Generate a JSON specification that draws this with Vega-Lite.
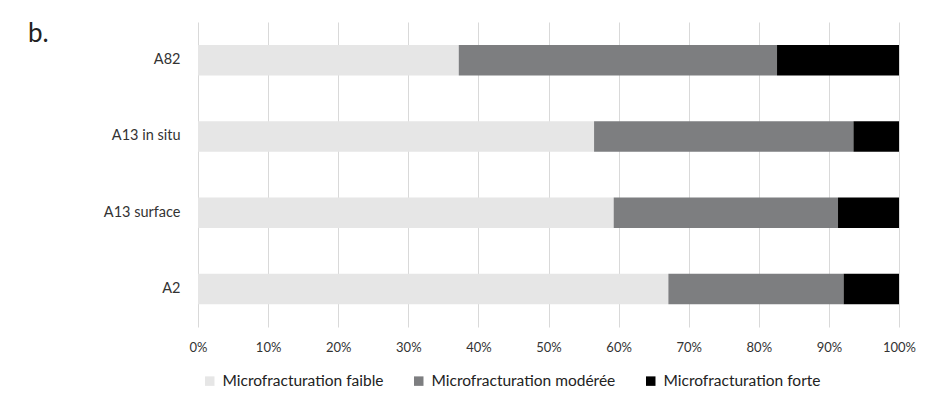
{
  "$schema": "https://vega.github.io/schema/vega-lite/v6.json",
  "width": 701,
  "height": 305,
  "autosize": "none",
  "padding": {"left": 198, "top": 22, "right": 28, "bottom": 76},
  "background": "white",
  "title": {"text": "b.", "anchor": "start", "frame": "group", "orient": "top", "baseline": "alphabetic", "offset": 0, "dx": -170, "dy": 46, "fontSize": 26, "fontWeight": "normal", "font": "Lato", "color": "#222222"},
  "config": {
    "font": "Lato",
    "view": {"stroke": null},
    "axis": {"labelFont": "Lato", "labelFontSize": 13, "labelColor": "#333333"}
  },
  "data": {
    "values": [
      {"echantillon": "A82", "classe": "Microfracturation faible", "rang": 1, "valeur": 37.2},
      {"echantillon": "A82", "classe": "Microfracturation modérée", "rang": 2, "valeur": 45.4},
      {"echantillon": "A82", "classe": "Microfracturation forte", "rang": 3, "valeur": 17.4},
      {"echantillon": "A13 in situ", "classe": "Microfracturation faible", "rang": 1, "valeur": 56.5},
      {"echantillon": "A13 in situ", "classe": "Microfracturation modérée", "rang": 2, "valeur": 37.0},
      {"echantillon": "A13 in situ", "classe": "Microfracturation forte", "rang": 3, "valeur": 6.5},
      {"echantillon": "A13 surface", "classe": "Microfracturation faible", "rang": 1, "valeur": 59.3},
      {"echantillon": "A13 surface", "classe": "Microfracturation modérée", "rang": 2, "valeur": 32.0},
      {"echantillon": "A13 surface", "classe": "Microfracturation forte", "rang": 3, "valeur": 8.7},
      {"echantillon": "A2", "classe": "Microfracturation faible", "rang": 1, "valeur": 67.1},
      {"echantillon": "A2", "classe": "Microfracturation modérée", "rang": 2, "valeur": 25.0},
      {"echantillon": "A2", "classe": "Microfracturation forte", "rang": 3, "valeur": 7.9}
    ]
  },
  "mark": {"type": "bar"},
  "encoding": {
    "y": {
      "field": "echantillon", "type": "nominal",
      "sort": ["A82", "A13 in situ", "A13 surface", "A2"],
      "scale": {"paddingInner": 0.6, "paddingOuter": 0.3},
      "axis": {"title": null, "ticks": false, "domain": false, "labelPadding": 18, "grid": false, "labelFontSize": 14.5}
    },
    "x": {
      "field": "valeur", "type": "quantitative", "stack": "normalize",
      "scale": {"domain": [0, 1], "nice": false},
      "axis": {"title": null, "format": ".0%", "values": [0, 0.1, 0.2, 0.3, 0.4, 0.5, 0.6, 0.7, 0.8, 0.9, 1], "ticks": false, "domain": false, "grid": true, "gridColor": "#d9d9d9", "gridWidth": 1, "labelPadding": 14, "labelFlush": false}
    },
    "order": {"field": "rang", "type": "quantitative", "sort": "ascending"},
    "color": {
      "field": "classe", "type": "nominal",
      "scale": {"domain": ["Microfracturation faible", "Microfracturation modérée", "Microfracturation forte"], "range": ["#e6e6e6", "#7d7e80", "#000000"]},
      "legend": {"title": null, "orient": "none", "legendX": 4, "legendY": 351, "direction": "horizontal", "symbolType": "square", "symbolSize": 90, "symbolStrokeWidth": 0, "labelFontSize": 15.5, "labelFont": "Lato", "labelColor": "#222222", "columnPadding": 27, "labelOffset": 5, "labelLimit": 300}
    }
  }
}
